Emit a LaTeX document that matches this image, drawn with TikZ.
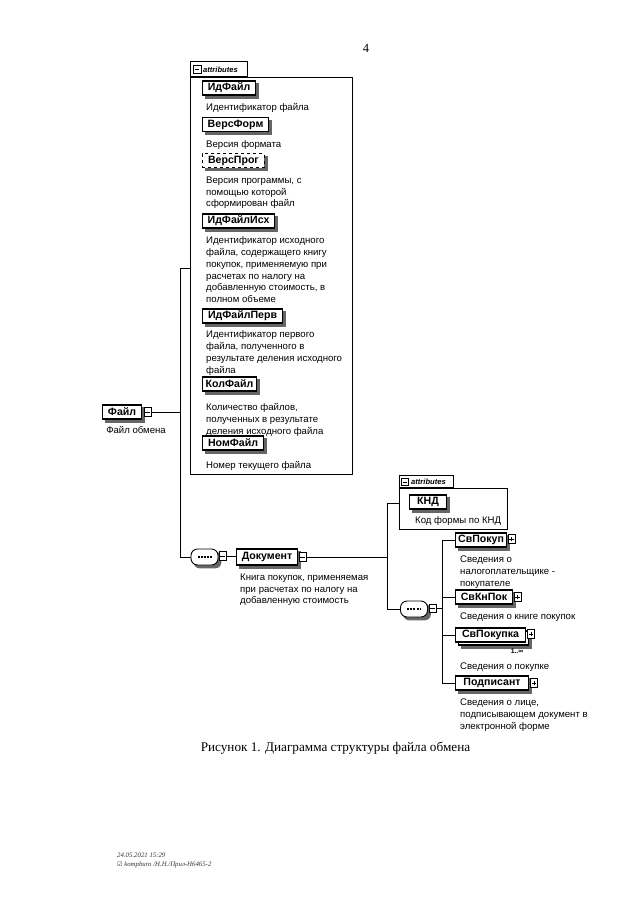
\documentclass[tikz,border=0pt]{standalone}
\usepackage{fontspec}
\setmainfont{Liberation Serif}
\newfontfamily\arialf{Liberation Sans}
\newfontfamily\dejavuf{DejaVu Sans}
\usetikzlibrary{backgrounds}
\newcommand\elemfont{\arialf\bfseries\fontsize{10.6}{12}\selectfont}
\newcommand\descfont{\arialf\fontsize{9.6}{11.8}\selectfont}
\newcommand\tabfont{\arialf\bfseries\itshape\fontsize{7.6}{8}\selectfont}
\tikzset{
  conn/.style={line width=0.8pt},
  elem/.style={draw, line width=1.1pt, fill=white, font=\elemfont, minimum height=14, inner sep=0, anchor=west},
  desc/.style={anchor=north west, inner sep=0, font=\descfont, align=left},
  icon/.style={draw, line width=0.6pt, fill=white, minimum width=7, minimum height=8.5, inner sep=0},
  minusicon/.style={icon, path picture={\draw[line width=0.6pt] ([xshift=-2.2pt]path picture bounding box.center) -- ([xshift=2.2pt]path picture bounding box.center);}},
  plusicon/.style={icon, path picture={\draw[line width=0.6pt] ([xshift=-2.2pt]path picture bounding box.center) -- ([xshift=2.2pt]path picture bounding box.center) ([yshift=-2.2pt]path picture bounding box.center) -- ([yshift=2.2pt]path picture bounding box.center);}},
  seqnode/.style={draw, line width=0.9pt, fill=white, rounded corners=6.5pt, minimum width=27, minimum height=16, inner sep=0,
    path picture={\draw[line width=1.3pt, dash pattern=on 2pt off 1.2pt] ([xshift=-7pt]path picture bounding box.center) -- ([xshift=7pt]path picture bounding box.center);}},
  attrbox/.style={draw, line width=0.9pt, anchor=north west, inner sep=0},
  attrtab/.style={draw, line width=0.9pt, anchor=south west, inner sep=0},
  shadowfill/.style={fill=black!60},
}
\begin{document}
\begin{tikzpicture}[x=1pt,y=-1pt]
\useasboundingbox (0,0) rectangle (640,905);

% page number
\node[font=\fontsize{12.5}{14}\selectfont] (pg) at (366,48) {4};

% ---------- big attributes box ----------
\node[attrbox, minimum width=162, minimum height=397] (attrA) at (190,77) {};
\node[attrtab, minimum width=57, minimum height=15] (tabA) at (190,77) {};
\node[minusicon, minimum width=8, minimum height=8] (tabAi) at (197,69.5) {};
\node[font=\tabfont, anchor=west, inner sep=0] (tabAt) at (203,69.5) {attributes};

\node[elem, minimum width=53] (idf) at (202,88) {ИдФайл};
\node[desc] (idfd) at (206,103.5) {Идентификатор файла};
\node[elem, minimum width=66] (vf) at (202,124.5) {ВерсФорм};
\node[desc] (vfd) at (206,140.5) {Версия формата};
\node[elem, dashed, line width=0.9pt, minimum width=62] (vp) at (202,160.5) {ВерсПрог};
\node[desc] (vpd) at (206,176.5) {Версия программы, с\\помощью которой\\сформирован файл};
\node[elem, minimum width=72] (ifi) at (202,221) {ИдФайлИсх};
\node[desc] (ifid) at (206,236.5) {Идентификатор исходного\\файла, содержащего книгу\\покупок, применяемую при\\расчетах по налогу на\\добавленную стоимость, в\\полном объеме};
\node[elem, minimum width=80] (ifp) at (202,316) {ИдФайлПерв};
\node[desc] (ifpd) at (206,330.5) {Идентификатор первого\\файла, полученного в\\результате деления исходного\\файла};
\node[elem, minimum width=54] (kf) at (202,384) {КолФайл};
\node[desc] (kfd) at (206,403.5) {Количество файлов,\\полученных в результате\\деления исходного файла};
\node[elem, minimum width=61] (nf) at (202,443) {НомФайл};
\node[desc] (nfd) at (206,461.5) {Номер текущего файла};

% ---------- root ----------
\node[elem, minimum width=39] (fl) at (102,412) {Файл};
\node[minusicon] (fli) at (147.5,412) {};
\node[font=\descfont, inner sep=0] (fld) at (136,430) {Файл обмена};

\coordinate (t1) at (180,268);
\coordinate (t2) at (180,557);
\draw[conn] (fli.east) -- (fli.east -| t1);
\draw[conn] (attrA.west |- t1) -- (t1) -- (t2);

% ---------- Документ ----------
\node[seqnode] (seq1) at (204.5,557) {};
\node[minusicon] (seq1i) at (222.5,556) {};
\draw[conn] (t2) -- (seq1.west);
\node[elem, minimum width=61, minimum height=16] (doc) at (236,557) {Документ};
\node[minusicon] (doci) at (302.5,557) {};
\draw[conn] (seq1i.east) -- (seq1i.east -| doc.west);
\node[desc] (docd) at (240,573.5) {Книга покупок, применяемая\\при расчетах по налогу на\\добавленную стоимость};

\coordinate (t3) at (387,557);
\coordinate (t4) at (387,503);
\coordinate (t5) at (387,609);
\draw[conn] (doci.east) -- (t3);
\draw[conn] (t4) -- (t5);

% ---------- small attributes ----------
\node[attrbox, minimum width=108, minimum height=41] (attrB) at (399,488) {};
\node[attrtab, minimum width=54, minimum height=12] (tabB) at (399,488) {};
\node[minusicon, minimum width=7.5, minimum height=7.5] (tabBi) at (405,482) {};
\node[font=\tabfont, anchor=west, inner sep=0] (tabBt) at (411,482) {attributes};
\node[elem, minimum width=37] (knd) at (409,502) {КНД};
\node[desc] (kndd) at (415,516.5) {Код формы по КНД};
\draw[conn] (t4) -- (t4 -| attrB.west);

% ---------- second sequence ----------
\node[seqnode] (seq2) at (414,609) {};
\node[minusicon] (seq2i) at (432.5,608.5) {};
\draw[conn] (t5) -- (seq2.west);
\coordinate (t6) at (442,608.5);
\coordinate (t7) at (442,540);
\coordinate (t8) at (442,683);
\draw[conn] (seq2i.east) -- (t6);
\draw[conn] (t7) -- (t8);

\node[elem, minimum width=51] (svp) at (455,540) {СвПокуп};
\node[plusicon] (svpi) at (511.5,539) {};
\node[desc] (svpd) at (460,555.5) {Сведения о\\налогоплательщике -\\покупателе};
\draw[conn] (t7) -- (svp.west);

\node[elem, minimum width=57] (skp) at (455,597) {СвКнПок};
\node[plusicon] (skpi) at (517.5,597) {};
\node[desc] (skpd) at (460,612.5) {Сведения о книге покупок};
\draw[conn] (t6 |- skp.west) -- (skp.west);

\node[elem, minimum width=70] (spkb) at (458,638) {\phantom{СвПокупка}};
\node[elem, minimum width=70] (spk) at (455,635) {СвПокупка};
\node[plusicon] (spki) at (531,634) {};
\node[font=\arialf\bfseries\fontsize{6.8}{7}\selectfont, inner sep=0] (spkm) at (517,651) {1..∞};
\node[desc] (spkd) at (460,662.5) {Сведения о покупке};
\draw[conn] (t6 |- spk.west) -- (spk.west);

\node[elem, minimum width=73] (pod) at (455,683) {Подписант};
\node[plusicon] (podi) at (534,683) {};
\node[desc] (podd) at (460,698.5) {Сведения о лице,\\подписывающем документ в\\электронной форме};
\draw[conn] (t8) -- (pod.west);

% ---------- shadows ----------
\begin{scope}[on background layer]
  \foreach \n in {idf,vf,vp,ifi,ifp,kf,nf,fl,doc,knd,svp,skp,spkb,spk,pod}{
    \fill[shadowfill] ([xshift=3pt,yshift=-3pt]\n.south west) rectangle ([xshift=3pt,yshift=-3pt]\n.north east);
  }
  \foreach \n in {seq1,seq2}{
    \fill[shadowfill, rounded corners=6.5pt] ([xshift=3pt,yshift=-3pt]\n.south west) rectangle ([xshift=3pt,yshift=-3pt]\n.north east);
  }
\end{scope}

% ---------- caption ----------
\node[font=\fontsize{13.2}{15}\selectfont] (cap) at (335.5,748) {Рисунок 1. Диаграмма структуры файла обмена};

% ---------- footer ----------
\node[anchor=north west, inner sep=0, align=left, font=\itshape\fontsize{6.8}{8.6}\selectfont, text=black!80] (foot) at (117,853) {24.05.2021 15:29\\{\dejavuf\fontsize{6}{8}\selectfont ☑} kompburo /Н.Н./Прил-Н6465-2};
\end{tikzpicture}
\end{document}
